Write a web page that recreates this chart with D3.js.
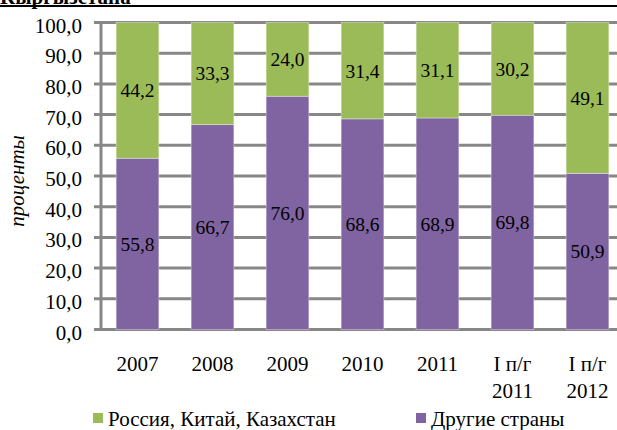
<!DOCTYPE html>
<html lang="ru">
<head>
  <meta charset="UTF-8">
  <script src="https://d3js.org/d3.v7.min.js"></script>
  <title>Кыргызстана</title>
  <style>
    body { margin: 0; background: #fff; }
    svg, svg text, svg tspan { font-family: "Liberation Serif", serif !important; }
    svg text { fill: #000; }
    .axis path, .axis line { stroke: #878787; stroke-width: 3; }
  </style>
</head>
<body>
  <div id="chart"></div>
  <script>
    // data
    const categories = ["2007", "2008", "2009", "2010", "2011", "I п/г|2011", "I п/г|2012"];
    const otherCountries = [55.8, 66.7, 76.0, 68.6, 68.9, 69.8, 50.9];
    const rusChinaKaz = [44.2, 33.3, 24.0, 31.4, 31.1, 30.2, 49.1];
    const yTicks = [0, 10, 20, 30, 40, 50, 60, 70, 80, 90, 100];
    const seriesNames = ["Россия, Китай, Казахстан", "Другие страны"];

    const width = 617, height = 430;
    const colors = { rus: "#9bbb59", other: "#8064a2" };
    const fmt = v => d3.format(".1f")(v).replace(".", ",");

    const svg = d3.select("#chart").append("svg")
      .attr("width", width)
      .attr("height", height)
      .attr("font-family", "Liberation Serif");

    // cut-off title at top
    svg.append("text")
      .attr("x", 0).attr("y", 4)
      .attr("font-size", 21).attr("font-weight", "bold")
      .text("Кыргызстана");
    svg.append("line")
      .attr("x1", 0).attr("x2", width)
      .attr("y1", 6).attr("y2", 6)
      .attr("stroke", "#000").attr("stroke-width", 2);

    const x = d3.scaleBand()
      .domain(categories)
      .range([100, 625])
      .paddingInner(0.43)
      .paddingOuter(0.215);

    const y = d3.scaleLinear()
      .domain([0, 100])
      .range([329.5, 22.5]);

    // gridlines
    svg.append("g")
      .selectAll("line")
      .data(yTicks)
      .join("line")
      .attr("x1", 94).attr("x2", width)
      .attr("y1", d => y(d)).attr("y2", d => y(d))
      .attr("stroke", "#878787").attr("stroke-width", 3);

    // y axis
    const yAxis = svg.append("g")
      .attr("class", "axis")
      .attr("transform", "translate(101,0)")
      .call(d3.axisLeft(y).tickValues(yTicks).tickSize(0).tickPadding(19).tickFormat(fmt));
    yAxis.attr("font-family", null).attr("font-size", 21);
    yAxis.select(".domain").attr("d", `M0,${y(100) - 1.5}V${y(0) + 1.5}`);
    yAxis.selectAll("text").attr("dy", 9.5);

    svg.append("text")
      .attr("transform", "translate(24,181) rotate(-90)")
      .attr("text-anchor", "middle")
      .attr("font-size", 21)
      .attr("font-style", "italic")
      .text("проценты");

    // stacked bars
    const rows = categories.map((c, i) => ({ cat: c, other: otherCountries[i], rus: rusChinaKaz[i] }));
    const stack = d3.stack().keys(["other", "rus"])(rows);

    const layers = svg.append("g")
      .selectAll("g")
      .data(stack)
      .join("g")
      .attr("fill", d => colors[d.key]);

    layers.selectAll("rect")
      .data(d => d)
      .join("rect")
      .attr("x", d => x(d.data.cat))
      .attr("y", d => y(d[1]))
      .attr("width", x.bandwidth())
      .attr("height", d => y(d[0]) - y(d[1]))
      .attr("stroke", "#fff").attr("stroke-width", 0.6).attr("stroke-opacity", 0.6);

    // value labels
    layers.selectAll("text")
      .data(d => d.map(p => ({ p, key: d.key })))
      .join("text")
      .attr("x", d => x(d.p.data.cat) + x.bandwidth() / 2)
      .attr("y", d => y((d.p[0] + d.p[1]) / 2))
      .attr("dy", "0.35em")
      .attr("text-anchor", "middle")
      .attr("font-size", 19.5)
      .text(d => fmt(d.p.data[d.key]));

    // category labels
    const xAxis = svg.append("g")
      .attr("class", "axis")
      .attr("transform", `translate(0,${y(0)})`)
      .call(d3.axisBottom(x).tickSize(0).tickPadding(0));
    xAxis.attr("font-family", null).attr("font-size", 21);
    xAxis.select(".domain").remove();
    xAxis.selectAll("text").each(function (d) {
      const t = d3.select(this).text("").attr("y", 0).attr("dy", null);
      d.split("|").forEach((s, i) => {
        t.append("tspan").attr("x", 0).attr("y", 41 + i * 27.5).text(s);
      });
    });

    // legend
    const legendX = [93, 416];
    const legendKeys = ["rus", "other"];
    const legend = svg.append("g")
      .selectAll("g")
      .data(seriesNames)
      .join("g")
      .attr("transform", (d, i) => `translate(${legendX[i]},413)`);
    legend.append("rect")
      .attr("width", 10).attr("height", 10)
      .attr("fill", (d, i) => colors[legendKeys[i]]);
    legend.append("text")
      .attr("x", 15).attr("y", 13)
      .attr("font-size", 21)
      .text(d => d);
  </script>
</body>
</html>
